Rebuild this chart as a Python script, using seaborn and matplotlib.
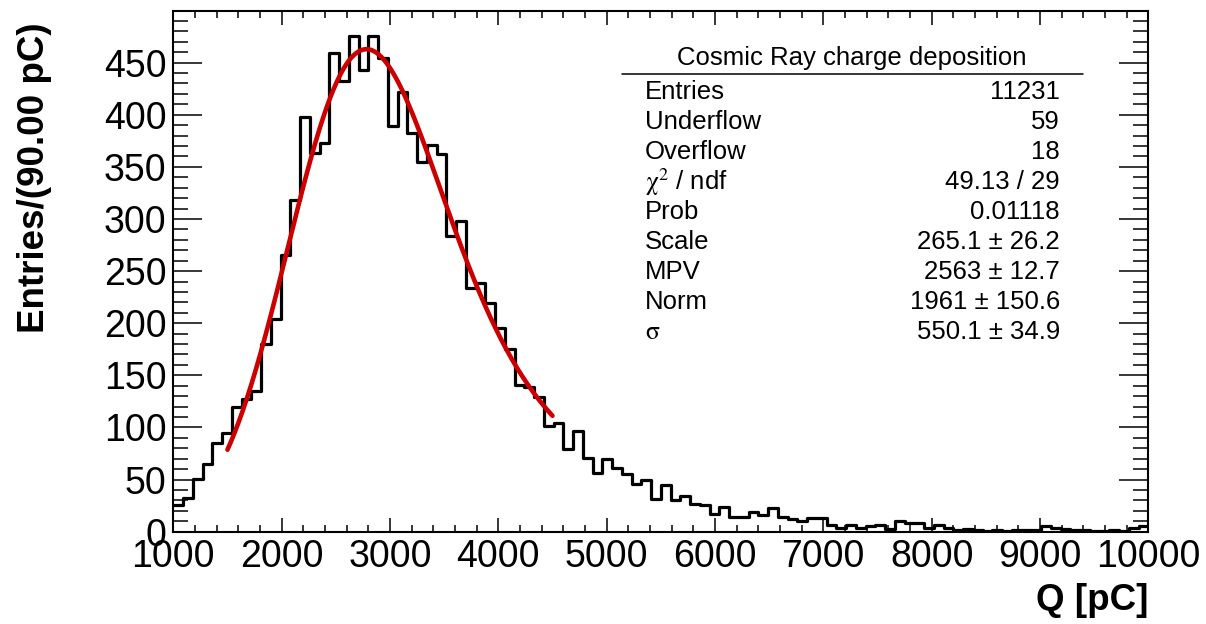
import numpy as np
import pandas as pd
import matplotlib
matplotlib.use("Agg")
import matplotlib.pyplot as plt
from matplotlib.lines import Line2D
from matplotlib.ticker import MultipleLocator, StrMethodFormatter
import seaborn as sns

# ---------------------------------------------------------------------------
# Histogram: 100 bins of 90 pC between 1000 and 10000 pC
# ---------------------------------------------------------------------------
q_min, q_max, bin_width = 1000.0, 10000.0, 90.0
counts = [
    26, 32, 51, 65, 85, 95, 120, 127, 135, 180,
    204, 265, 318, 398, 363, 373, 459, 432, 476, 443,
    476, 454, 389, 422, 382, 355, 371, 362, 284, 298,
    234, 239, 219, 195, 175, 141, 139, 129, 101, 104,
    79, 97, 71, 56, 70, 61, 55, 46, 50, 31,
    45, 30, 34, 27, 26, 17, 24, 14, 14, 19,
    16, 23, 14, 12, 10, 13, 13, 6, 4, 6,
    4, 5, 6, 3, 10, 8, 8, 4, 6, 4,
    2, 3, 2, 1, 2, 1, 2, 2, 2, 5,
    4, 3, 2, 2, 1, 1, 2, 1, 4, 5,
]

# Histogram statistics
n_entries = 11231
n_underflow = 59
n_overflow = 18

# Landau (x) Gaussian fit results
fit_range = (1500.0, 4500.0)
fit_scale, fit_scale_err = 265.1, 26.2
fit_mpv, fit_mpv_err = 2563.0, 12.7
fit_norm, fit_norm_err = 1961.0, 150.6
fit_sigma, fit_sigma_err = 550.1, 34.9
fit_chi2, fit_ndf = 49.13, 29
fit_prob = 0.01118

stats_title = "Cosmic Ray charge deposition"


# ---------------------------------------------------------------------------
# Landau density and its convolution with a Gaussian (langaus)
# ---------------------------------------------------------------------------
def landau_density(lam):
    """Standard Landau density from its Fourier representation."""
    lam = np.asarray(lam, dtype=float)
    t = np.linspace(0.0, 25.0, 10001)
    tlogt = np.zeros_like(t)
    tlogt[1:] = t[1:] * np.log(t[1:])
    damp = np.exp(-0.5 * np.pi * t)
    out = np.empty(lam.size)
    for i in range(0, lam.size, 200):
        chunk = lam[i:i + 200, None]
        out[i:i + 200] = np.trapezoid(damp * np.cos(tlogt + chunk * t), t, axis=1) / np.pi
    return out


lam_grid = np.linspace(-6.0, 22.0, 1401)
phi_grid = landau_density(lam_grid)


def langaus(x, width, mpv, sigma, n_steps=100, sc=5.0):
    mpc = mpv + 0.22278298 * width
    x = np.asarray(x, dtype=float)[:, None]
    step = 2.0 * sc * sigma / n_steps
    xx = x - sc * sigma + (np.arange(n_steps) + 0.5) * step
    fland = np.interp((xx - mpc) / width, lam_grid, phi_grid, left=0.0, right=0.0) / width
    gauss = np.exp(-0.5 * ((x - xx) / sigma) ** 2)
    return step * (fland * gauss).sum(axis=1) / (np.sqrt(2.0 * np.pi) * sigma)


n_bins = len(counts)
edges = q_min + bin_width * np.arange(n_bins + 1)
centers = 0.5 * (edges[:-1] + edges[1:])
hist_df = pd.DataFrame({"Q": centers, "entries": counts})

# amplitude of the fitted shape over the fit range
in_range = (centers >= fit_range[0]) & (centers <= fit_range[1])
shape_bins = langaus(centers[in_range], fit_scale, fit_mpv, fit_sigma)
h_in = np.asarray(counts, dtype=float)[in_range]
amplitude = (h_in * shape_bins).sum() / (shape_bins ** 2).sum()

q_fit = np.linspace(fit_range[0], fit_range[1], 301)
fit_df = pd.DataFrame({"Q": q_fit,
                       "f": amplitude * langaus(q_fit, fit_scale, fit_mpv, fit_sigma)})

# ---------------------------------------------------------------------------
# Figure
# ---------------------------------------------------------------------------
sns.set_theme(style="white")
plt.rcParams["font.family"] = ["Liberation Sans", "DejaVu Sans"]
plt.rcParams["mathtext.fontset"] = "stix"
plt.rcParams["text.color"] = "black"
plt.rcParams["axes.labelcolor"] = "black"
plt.rcParams["xtick.color"] = "black"
plt.rcParams["ytick.color"] = "black"

W, H = 1206, 624
fig = plt.figure(figsize=(W / 100, H / 100), dpi=100)
fig.patch.set_facecolor("white")

ax_left, ax_right, ax_top, ax_bottom = 173.3, 1148.3, 10.7, 531.7
ax = fig.add_axes([ax_left / W, 1 - ax_bottom / H,
                   (ax_right - ax_left) / W, (ax_bottom - ax_top) / H])
ax.set_facecolor("white")

sns.histplot(data=hist_df, x="Q", weights="entries",
             binwidth=bin_width, binrange=(q_min, q_max),
             element="step", fill=False, color="black", linewidth=2.3, ax=ax)
sns.lineplot(data=fit_df, x="Q", y="f", color="#cc0000", linewidth=3.3, ax=ax)

ax.set_xlim(q_min, q_max)
ax.set_ylim(0, 499.8)

ax.xaxis.set_major_locator(MultipleLocator(1000))
ax.xaxis.set_minor_locator(MultipleLocator(200))
ax.yaxis.set_major_locator(MultipleLocator(50))
ax.yaxis.set_minor_locator(MultipleLocator(10))
ax.xaxis.set_major_formatter(StrMethodFormatter("{x:.0f}"))
ax.yaxis.set_major_formatter(StrMethodFormatter("{x:.0f}"))

for s in ax.spines.values():
    s.set_visible(True)
    s.set_linewidth(1.5)
    s.set_color("black")

ax.tick_params(axis="x", which="major", direction="in", length=10, width=1.1,
               top=True, bottom=True, labelsize=27, pad=5, colors="black")
ax.tick_params(axis="x", which="minor", direction="in", length=5, width=1.1,
               top=True, bottom=True)
ax.tick_params(axis="y", which="major", direction="in", length=21, width=1.1,
               left=True, right=True, labelsize=27, pad=5, colors="black")
ax.tick_params(axis="y", which="minor", direction="in", length=10.5, width=1.1,
               left=True, right=True)

ax.set_xlabel("Q [pC]", fontsize=26.5, fontweight="bold", loc="right", color="black")
ax.set_ylabel("Entries/(90.00 pC)", fontsize=26.5, fontweight="bold", loc="top",
              color="black")
ax.xaxis.set_label_coords(1.0, (ax_bottom - 583) / (ax_bottom - ax_top))
ax.yaxis.set_label_coords((52 - ax_left) / (ax_right - ax_left),
                          (ax_bottom - 22) / (ax_bottom - ax_top))

# ---------------------------------------------------------------------------
# Statistics box
# ---------------------------------------------------------------------------
stats_labels = ["Entries", "Underflow", "Overflow", r"$\mathrm{\chi}^{2}$ / ndf", "Prob",
                "Scale", "MPV", "Norm", r"$\mathrm{\sigma}$"]
stats_values = [
    f"{n_entries}",
    f"{n_underflow}",
    f"{n_overflow}",
    f"{fit_chi2:.2f} / {fit_ndf}",
    f"{fit_prob:.5f}",
    f"{fit_scale:.1f} ± {fit_scale_err:.1f}",
    f"{fit_mpv:.0f} ± {fit_mpv_err:.1f}",
    f"{fit_norm:.0f} ± {fit_norm_err:.1f}",
    f"{fit_sigma:.1f} ± {fit_sigma_err:.1f}",
]


def fx(px):
    return px / W


def fy(py):
    return 1 - py / H


fs_stats = 18.5
fig.text(fx(852), fy(58), stats_title, ha="center", va="center", fontsize=fs_stats,
         color="black")
fig.add_artist(Line2D([fx(622), fx(1083)], [fy(74), fy(74)], color="black", lw=1.1))
for i, (lab, val) in enumerate(zip(stats_labels, stats_values)):
    y = fy(92 + 30 * i)
    fig.text(fx(645), y, lab, ha="left", va="center", fontsize=fs_stats, color="black")
    fig.text(fx(1060), y, val, ha="right", va="center", fontsize=fs_stats, color="black")

fig.savefig("out.png", dpi=100, facecolor="white")
